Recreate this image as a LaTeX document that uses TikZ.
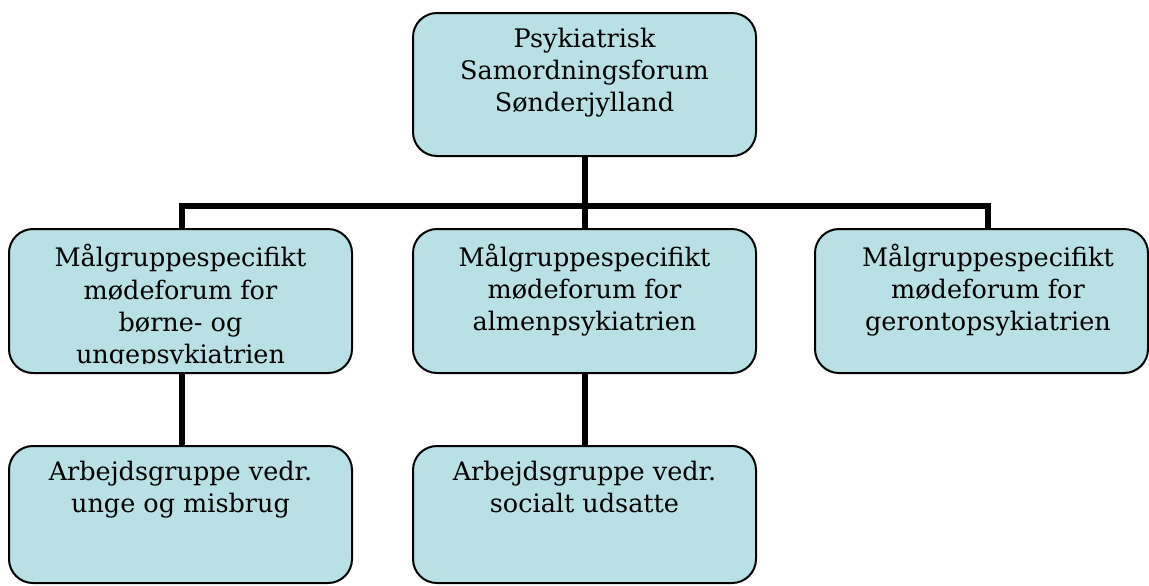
\documentclass[tikz,border=0pt]{standalone}
\usepackage{fontspec}
\setmainfont{DejaVu Serif}
\definecolor{boxblue}{RGB}{185,224,228}

\begin{document}
\begin{tikzpicture}[
    x = 0.5pt, y = -0.5pt,
    font = \fontsize{12.75}{16}\selectfont,
    outer sep = 0mm, inner sep = 0mm,
    box/.style = {
      rectangle, rounded corners = 12pt, draw = black, line width = 1pt,
      fill = boxblue, minimum width = 171.5pt, minimum height = 72pt,
    },
    txt/.style = {anchor = north, align = center, execute at begin node = \strut},
    bar/.style = {line width = 3pt},
  ]
  \useasboundingbox (0,0) rectangle (1149,585);

  \node[box, minimum height = 71.5pt] (top) at (584.5,84.5) {};
  \node[box] (mfb) at (180.5,301) {};
  \node[box] (mfa) at (584.5,301) {};
  \node[box, minimum width = 166.5pt] (mfg) at (981.5,301) {};
  \node[box, minimum height = 68.5pt] (agu) at (180.5,514.5) {};
  \node[box, minimum height = 68.5pt] (ags) at (584.5,514.5) {};

  \node[txt] (ttop) at ([yshift = -7.8pt] top.north)
    {Psykiatrisk\\Samordningsforum\\Sønderjylland};
  \begin{scope}
    \clip ([yshift = 5pt] mfb.south west) rectangle (mfb.north east);
    \node[txt] (tmfb) at ([yshift = -7.8pt] mfb.north)
      {Målgruppespecifikt\\mødeforum for\\børne- og\\ungepsykiatrien};
  \end{scope}
  \node[txt] (tmfa) at ([yshift = -7.8pt] mfa.north)
    {Målgruppespecifikt\\mødeforum for\\almenpsykiatrien};
  \node[txt] (tmfg) at ([xshift = 3.25pt, yshift = -7.8pt] mfg.north)
    {Målgruppespecifikt\\mødeforum for\\gerontopsykiatrien};
  \node[txt] (tagu) at ([yshift = -7.8pt] agu.north)
    {Arbejdsgruppe vedr.\\unge og misbrug};
  \node[txt] (tags) at ([yshift = -7.8pt] ags.north)
    {Arbejdsgruppe vedr.\\socialt udsatte};

  \draw[bar] (top.south) to ++(0,49.5) coordinate (hub);
  \draw[bar] ([xshift = .75pt] mfb.north) |- (hub)
    -| ([xshift = 3.25pt] mfg.north);
  \draw[bar] (hub) to (mfa.north);
  % lower level
  \draw[bar] ([xshift = .75pt] mfb.south) to ([xshift = .75pt] agu.north);
  \draw[bar] (mfa.south) to (ags.north);
\end{tikzpicture}
\end{document}
